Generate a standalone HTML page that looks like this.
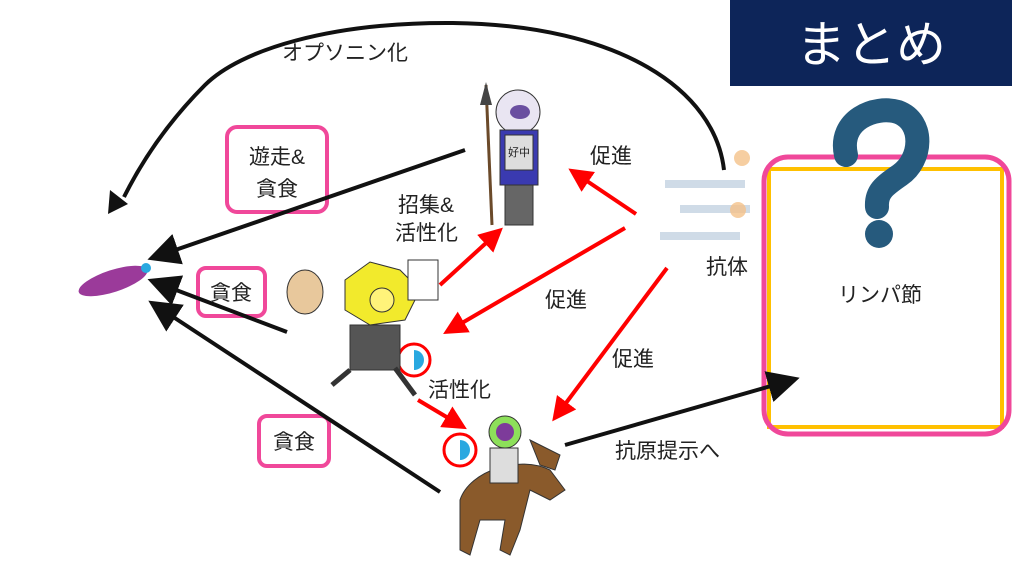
<!DOCTYPE html>
<html><head><meta charset="utf-8"><style>
html,body{margin:0;padding:0;background:#fff;width:1024px;height:576px;overflow:hidden}
svg{display:block}
text{font-family:"Liberation Sans","Noto Sans CJK JP",sans-serif;fill:#222}
</style></head><body>
<svg width="1024" height="576" viewBox="0 0 1024 576">
<defs>
<marker id="ab" markerWidth="8" markerHeight="8" refX="6" refY="4" orient="auto" markerUnits="strokeWidth"><path d="M0,0 L8,4 L0,8 z" fill="#111"/></marker>
<marker id="ar" markerWidth="6" markerHeight="6" refX="4" refY="3" orient="auto" markerUnits="strokeWidth"><path d="M0,0 L6,3 L0,6 z" fill="#f00"/></marker>
</defs>
<!-- title -->
<rect x="730" y="0" width="282" height="86" fill="#0d2559"/>
<text x="871" y="62" font-size="50" text-anchor="middle" style="fill:#fff">まとめ</text>
<!-- lymph node -->
<rect x="769" y="169" width="233" height="258" fill="none" stroke="#ffc000" stroke-width="4"/>
<rect x="764" y="157" width="245" height="277" rx="24" fill="none" stroke="#f0489a" stroke-width="5"/>
<path d="M846,155 C838,120 875,105 898,112 C925,122 922,160 900,175 C884,186 876,192 877,207" fill="none" stroke="#265a7d" stroke-width="24" stroke-linecap="round"/>
<circle cx="879" cy="234" r="14" fill="#265a7d"/>
<text x="880" y="302" font-size="21" text-anchor="middle">リンパ節</text>
<!-- opsonization arc -->
<path d="M724,170 C715,90 620,25 453,23 C330,22 240,50 205,85 C165,125 140,165 124,197" fill="none" stroke="#111" stroke-width="4"/>
<path d="M108,214 L110,190 L128,204 z" fill="#111"/>
<text x="282" y="60" font-size="21">オプソニン化</text>
<!-- pink boxes -->
<rect x="227" y="127" width="100" height="85" rx="10" fill="#fff" stroke="#f0489a" stroke-width="4"/>
<text x="277" y="164" font-size="21" text-anchor="middle">遊走&amp;</text>
<text x="277" y="196" font-size="21" text-anchor="middle">貪食</text>
<rect x="198" y="268" width="67" height="48" rx="8" fill="#fff" stroke="#f0489a" stroke-width="4"/>
<text x="231" y="300" font-size="21" text-anchor="middle">貪食</text>
<rect x="259" y="416" width="70" height="50" rx="8" fill="#fff" stroke="#f0489a" stroke-width="4"/>
<text x="294" y="449" font-size="21" text-anchor="middle">貪食</text>
<!-- bacterium -->
<ellipse cx="113" cy="281" rx="36" ry="11" transform="rotate(-18 113 281)" fill="#9b3a9a"/>
<ellipse cx="146" cy="268" rx="5" ry="5" fill="#29a8e0"/>
<!-- black arrows -->
<line x1="465" y1="150" x2="155" y2="257" stroke="#111" stroke-width="4" marker-end="url(#ab)"/>
<line x1="287" y1="332" x2="155" y2="282" stroke="#111" stroke-width="4" marker-end="url(#ab)"/>
<line x1="440" y1="492" x2="155" y2="305" stroke="#111" stroke-width="4" marker-end="url(#ab)"/>
<line x1="565" y1="445" x2="792" y2="380" stroke="#111" stroke-width="4" marker-end="url(#ab)"/>
<!-- red arrows -->
<g stroke="#f00" stroke-width="4" fill="none">
<line x1="636" y1="214" x2="575" y2="173" marker-end="url(#ar)"/>
<line x1="625" y1="228" x2="450" y2="330" marker-end="url(#ar)"/>
<line x1="440" y1="285" x2="497" y2="233" marker-end="url(#ar)"/>
<line x1="667" y1="268" x2="557" y2="415" marker-end="url(#ar)"/>
<line x1="418" y1="400" x2="460" y2="425" marker-end="url(#ar)"/>
<circle cx="414" cy="360" r="16" stroke-width="3"/>
<circle cx="460" cy="450" r="16" stroke-width="3"/>
</g>
<!-- labels -->
<text x="590" y="163" font-size="21">促進</text>
<text x="398" y="212" font-size="21">招集&amp;</text>
<text x="395" y="240" font-size="21">活性化</text>
<text x="545" y="307" font-size="21">促進</text>
<text x="706" y="274" font-size="21">抗体</text>
<text x="612" y="366" font-size="21">促進</text>
<text x="428" y="397" font-size="21">活性化</text>
<text x="615" y="458" font-size="21">抗原提示へ</text>
<!-- neutrophil figure -->
<line x1="486" y1="85" x2="492" y2="225" stroke="#6b4a2a" stroke-width="3"/>
<path d="M480,105 L486,82 L492,105 z" fill="#444"/>
<ellipse cx="518" cy="112" rx="22" ry="22" fill="#e9e5f2" stroke="#333"/>
<ellipse cx="520" cy="112" rx="10" ry="7" fill="#6a4fa0"/>
<rect x="500" y="130" width="38" height="55" fill="#3a3ab0" stroke="#333"/>
<rect x="505" y="135" width="28" height="35" fill="#ddd" stroke="#333"/>
<text x="508" y="156" font-size="11">好中</text>
<rect x="505" y="185" width="28" height="40" fill="#666" stroke="#333"/>
<!-- macrophage figure -->
<path d="M345,280 L370,262 L400,270 L420,290 L405,320 L370,325 L345,310 z" fill="#f2ea2c" stroke="#333"/>
<circle cx="382" cy="300" r="12" fill="#fff37a" stroke="#333"/>
<ellipse cx="305" cy="292" rx="18" ry="22" fill="#e8c89c" stroke="#333"/>
<rect x="408" y="260" width="30" height="40" fill="#fff" stroke="#333"/>
<rect x="350" y="325" width="50" height="45" fill="#555" stroke="#333"/>
<line x1="350" y1="370" x2="332" y2="385" stroke="#333" stroke-width="5"/>
<line x1="395" y1="368" x2="415" y2="395" stroke="#333" stroke-width="5"/>
<path d="M414,350 a10,10 0 0 1 0,20 z" fill="#29a8e0"/>
<!-- antibodies (blurred) -->
<g fill="#bcd" opacity="0.7">
<rect x="665" y="180" width="80" height="8"/><rect x="680" y="205" width="70" height="8"/><rect x="660" y="232" width="80" height="8"/>
</g>
<g fill="#f5c28a" opacity="0.8"><circle cx="742" cy="158" r="8"/><circle cx="738" cy="210" r="8"/></g>
<!-- dendritic cell on horse -->
<path d="M460,500 C470,470 520,455 550,470 L565,490 L550,500 L530,490 L520,530 L510,555 L500,550 L505,520 L480,520 L470,555 L460,550 z" fill="#8a5a2b" stroke="#333"/>
<path d="M530,440 L560,455 L555,470 L540,465 z" fill="#8a5a2b" stroke="#333"/>
<circle cx="505" cy="432" r="16" fill="#8de05a" stroke="#333"/>
<circle cx="505" cy="432" r="9" fill="#7d3b9a"/>
<rect x="490" y="448" width="28" height="35" fill="#ddd" stroke="#333"/>
<path d="M460,440 a10,10 0 0 1 0,20 z" fill="#29a8e0"/>
</svg>
</body></html>
